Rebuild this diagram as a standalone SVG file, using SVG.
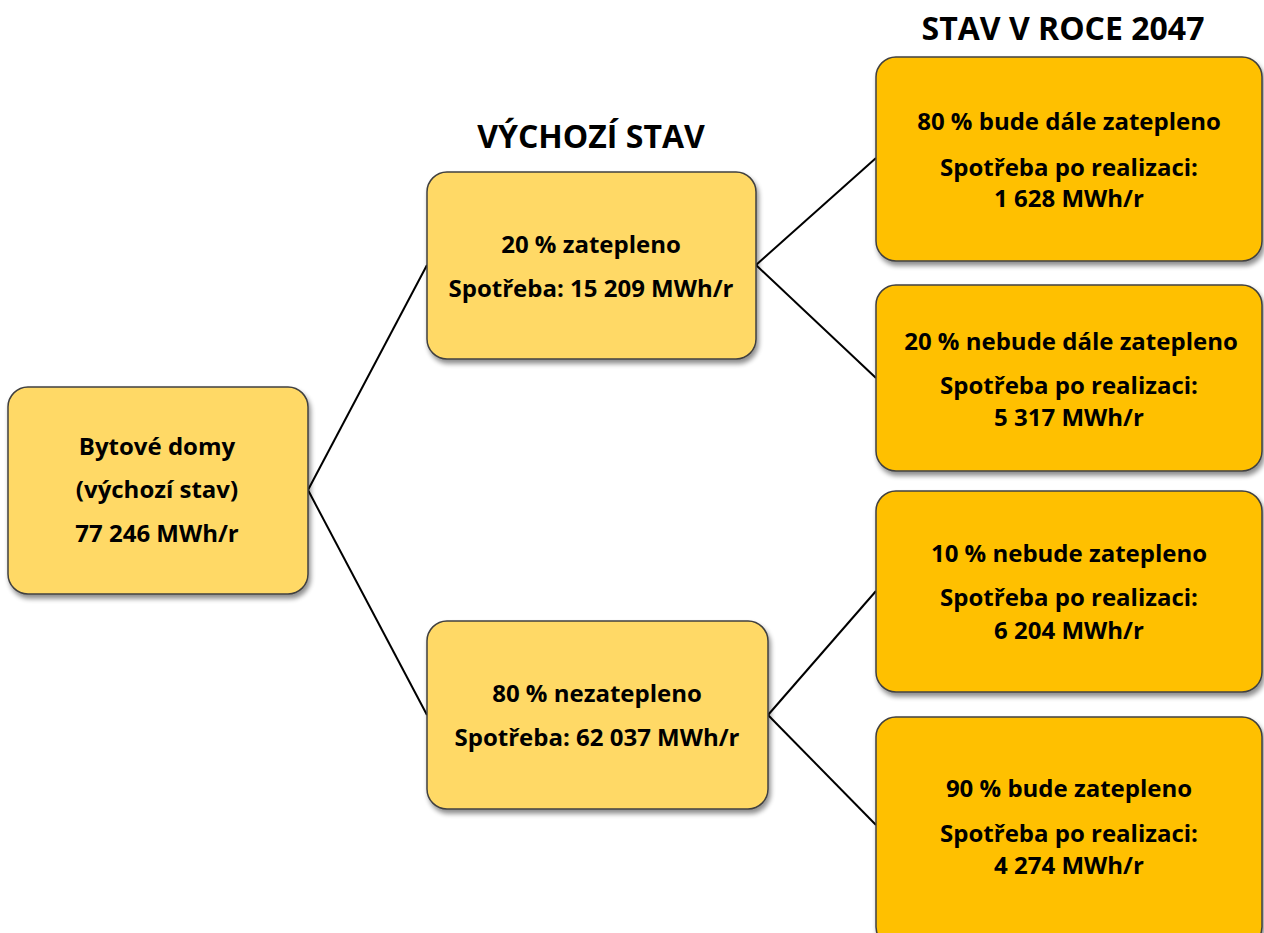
<svg xmlns="http://www.w3.org/2000/svg" width="1264" height="933" viewBox="0 0 1264 933">
<defs>
<filter id="sh" x="-10%" y="-10%" width="125%" height="130%">
<feGaussianBlur in="SourceAlpha" stdDeviation="2.5"/>
<feOffset dx="2" dy="4" result="b"/>
<feComponentTransfer><feFuncA type="linear" slope="0.45"/></feComponentTransfer>
<feMerge><feMergeNode/><feMergeNode in="SourceGraphic"/></feMerge>
</filter>
</defs>
<style>
.n1{fill:#FFD966;stroke:#404040;stroke-width:1.5;filter:url(#sh)}
.n2{fill:#FFC000;stroke:#404040;stroke-width:1.5;filter:url(#sh)}
text{font-family:"Open Sans","Liberation Sans",sans-serif;font-weight:bold;fill:#000;text-anchor:middle}
.t{font-size:24px}
.h{font-size:32px}
.c{stroke:#000;stroke-width:2;fill:none}
</style>
<rect width="1264" height="933" fill="#fff"/>
<text class="h" x="591" y="148">VÝCHOZÍ STAV</text>
<text class="h" x="1063" y="40">STAV V ROCE 2047</text>
<g id="connectors">
<line class="c" x1="308" y1="490" x2="427" y2="265"/>
<line class="c" x1="308" y1="490" x2="427" y2="715"/>
<line class="c" x1="756" y1="265" x2="876" y2="158"/>
<line class="c" x1="756" y1="265" x2="876" y2="378"/>
<line class="c" x1="768" y1="715" x2="876" y2="591"/>
<line class="c" x1="768" y1="715" x2="876" y2="825"/>
</g>
<g id="a">
<rect class="n1" x="8" y="387" width="300" height="207" rx="20"/>
<text class="t" x="157" y="455">Bytové domy</text>
<text class="t" x="157" y="498">(výchozí stav)</text>
<text class="t" x="157" y="542">77 246 MWh/r</text>
</g>
<g id="b1">
<rect class="n1" x="427" y="172" width="329" height="187" rx="20"/>
<text class="t" x="591" y="253">20 % zatepleno</text>
<text class="t" x="591" y="297">Spotřeba: 15 209 MWh/r</text>
</g>
<g id="b2">
<rect class="n1" x="427" y="621" width="341" height="188" rx="20"/>
<text class="t" x="597" y="702">80 % nezatepleno</text>
<text class="t" x="597" y="746">Spotřeba: 62 037 MWh/r</text>
</g>
<g id="c1">
<rect class="n2" x="876" y="57" width="386" height="204" rx="20"/>
<text class="t" x="1069" y="130">80 % bude dále zatepleno</text>
<text class="t" x="1069" y="176">Spotřeba po realizaci:</text>
<text class="t" x="1069" y="207">1 628 MWh/r</text>
</g>
<g id="c2">
<rect class="n2" x="876" y="285" width="386" height="186" rx="20"/>
<text class="t" x="1071" y="350">20 % nebude dále zatepleno</text>
<text class="t" x="1069" y="394">Spotřeba po realizaci:</text>
<text class="t" x="1069" y="426">5 317 MWh/r</text>
</g>
<g id="c3">
<rect class="n2" x="876" y="491" width="386" height="201" rx="20"/>
<text class="t" x="1069" y="562">10 % nebude zatepleno</text>
<text class="t" x="1069" y="606">Spotřeba po realizaci:</text>
<text class="t" x="1069" y="639">6 204 MWh/r</text>
</g>
<g id="c4">
<rect class="n2" x="876" y="717" width="386" height="230" rx="20"/>
<text class="t" x="1069" y="797">90 % bude zatepleno</text>
<text class="t" x="1069" y="842">Spotřeba po realizaci:</text>
<text class="t" x="1069" y="874">4 274 MWh/r</text>
</g>
</svg>
